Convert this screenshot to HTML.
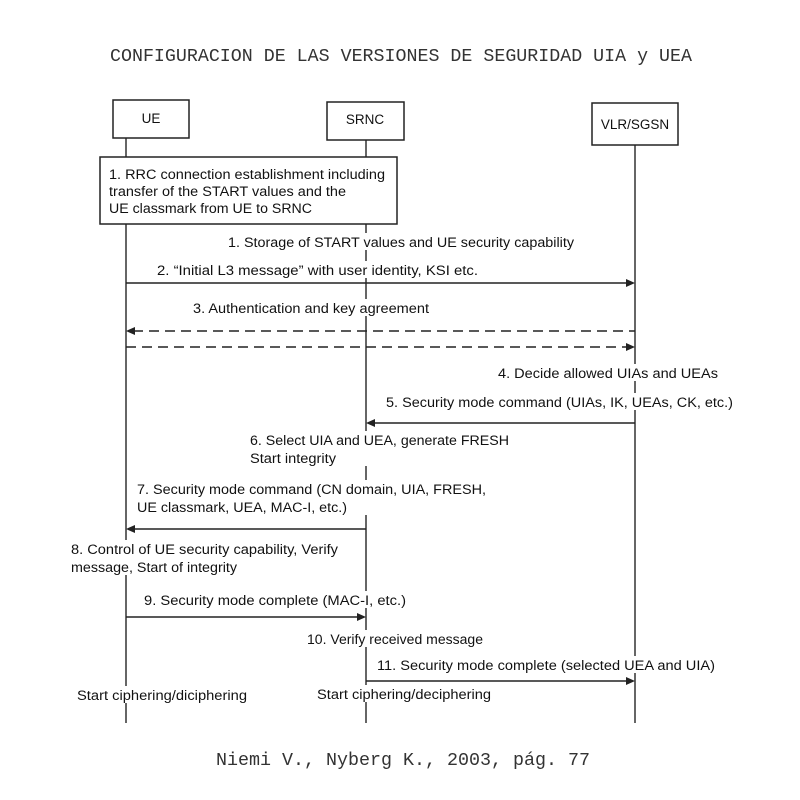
<!DOCTYPE html>
<html><head><meta charset="utf-8"><style>
html,body{margin:0;padding:0;background:#fff;}
svg{display:block;}
.s{font-family:"Liberation Sans",Arial,sans-serif;font-size:13.5px;fill:#111;}
.m{font-family:"Liberation Mono","Courier New",monospace;fill:#333;}
</style></head><body>
<svg width="800" height="800" viewBox="0 0 800 800" xmlns="http://www.w3.org/2000/svg">
<rect width="800" height="800" fill="#fff"/>
<text class="m" x="110" y="61" font-size="18.5" textLength="582" lengthAdjust="spacingAndGlyphs">CONFIGURACION DE LAS VERSIONES DE SEGURIDAD UIA y UEA</text>
<g stroke="#333" stroke-width="1.5" fill="none">
<line x1="126" y1="138" x2="126" y2="723"/>
<line x1="366" y1="140" x2="366" y2="723"/>
<line x1="635" y1="145" x2="635" y2="723"/>
</g>
<g stroke="#222" stroke-width="1.5" fill="#fff">
<rect x="113" y="100" width="76" height="38"/>
<rect x="327" y="102" width="77" height="38"/>
<rect x="592" y="103" width="86" height="42"/>
<rect x="100" y="157" width="297" height="67"/>
</g>
<text class="s" x="151" y="123" font-size="15" text-anchor="middle">UE</text>
<text class="s" x="365" y="124" font-size="15" text-anchor="middle">SRNC</text>
<text class="s" x="635" y="129" font-size="15" text-anchor="middle">VLR/SGSN</text>
<text class="s" x="109" y="179" textLength="276" lengthAdjust="spacingAndGlyphs">1. RRC connection establishment including</text>
<text class="s" x="109" y="196" textLength="237" lengthAdjust="spacingAndGlyphs">transfer of the START values and the</text>
<text class="s" x="109" y="213" textLength="203" lengthAdjust="spacingAndGlyphs">UE classmark from UE to SRNC</text>
<g fill="#fff">
<rect x="225" y="233" width="352" height="17"/>
<rect x="154" y="261" width="327" height="17"/>
<rect x="190" y="299" width="242" height="17"/>
<rect x="495" y="364" width="226" height="17"/>
<rect x="383" y="393" width="353" height="17"/>
<rect x="247" y="431" width="265" height="35"/>
<rect x="134" y="480" width="355" height="35"/>
<rect x="68" y="540" width="273" height="35"/>
<rect x="141" y="591" width="268" height="17"/>
<rect x="304" y="630" width="182" height="17"/>
<rect x="374" y="656" width="344" height="17"/>
<rect x="74" y="686" width="176" height="17"/>
<rect x="314" y="685" width="180" height="17"/>
</g>
<g class="s">
<text x="228" y="247" textLength="346" lengthAdjust="spacingAndGlyphs">1. Storage of START values and UE security capability</text>
<text x="157" y="275" textLength="321" lengthAdjust="spacingAndGlyphs">2. “Initial L3 message” with user identity, KSI etc.</text>
<text x="193" y="313" textLength="236" lengthAdjust="spacingAndGlyphs">3. Authentication and key agreement</text>
<text x="498" y="378" textLength="220" lengthAdjust="spacingAndGlyphs">4. Decide allowed UIAs and UEAs</text>
<text x="386" y="407" textLength="347" lengthAdjust="spacingAndGlyphs">5. Security mode command (UIAs, IK, UEAs, CK, etc.)</text>
<text x="250" y="445" textLength="259" lengthAdjust="spacingAndGlyphs">6. Select UIA and UEA, generate FRESH</text>
<text x="250" y="463" textLength="86" lengthAdjust="spacingAndGlyphs">Start integrity</text>
<text x="137" y="494" textLength="349" lengthAdjust="spacingAndGlyphs">7. Security mode command (CN domain, UIA, FRESH,</text>
<text x="137" y="512" textLength="210" lengthAdjust="spacingAndGlyphs">UE classmark, UEA, MAC-I, etc.)</text>
<text x="71" y="554" textLength="267" lengthAdjust="spacingAndGlyphs">8. Control of UE security capability, Verify</text>
<text x="71" y="572" textLength="166" lengthAdjust="spacingAndGlyphs">message, Start of integrity</text>
<text x="144" y="605" textLength="262" lengthAdjust="spacingAndGlyphs">9. Security mode complete (MAC-I, etc.)</text>
<text x="307" y="644" textLength="176" lengthAdjust="spacingAndGlyphs">10. Verify received message</text>
<text x="377" y="670" textLength="338" lengthAdjust="spacingAndGlyphs">11. Security mode complete (selected UEA and UIA)</text>
<text x="77" y="700" textLength="170" lengthAdjust="spacingAndGlyphs">Start ciphering/diciphering</text>
<text x="317" y="699" textLength="174" lengthAdjust="spacingAndGlyphs">Start ciphering/deciphering</text>
</g>
<g stroke="#222" stroke-width="1.5" fill="none">
<line x1="126" y1="283" x2="628" y2="283"/>
<line x1="133" y1="331" x2="635" y2="331" stroke-dasharray="10,6"/>
<line x1="126" y1="347" x2="628" y2="347" stroke-dasharray="10,6"/>
<line x1="373" y1="423" x2="635" y2="423"/>
<line x1="133" y1="529" x2="366" y2="529"/>
<line x1="126" y1="617" x2="359" y2="617"/>
<line x1="366" y1="681" x2="628" y2="681"/>
</g>
<g fill="#222">
<polygon points="635,283 626,279 626,287"/>
<polygon points="126,331 135,327 135,335"/>
<polygon points="635,347 626,343 626,351"/>
<polygon points="366,423 375,419 375,427"/>
<polygon points="126,529 135,525 135,533"/>
<polygon points="366,617 357,613 357,621"/>
<polygon points="635,681 626,677 626,685"/>
</g>
<text class="m" x="216" y="765" font-size="18" textLength="374" lengthAdjust="spacingAndGlyphs">Niemi V., Nyberg K., 2003, pág. 77</text>
</svg>
</body></html>
